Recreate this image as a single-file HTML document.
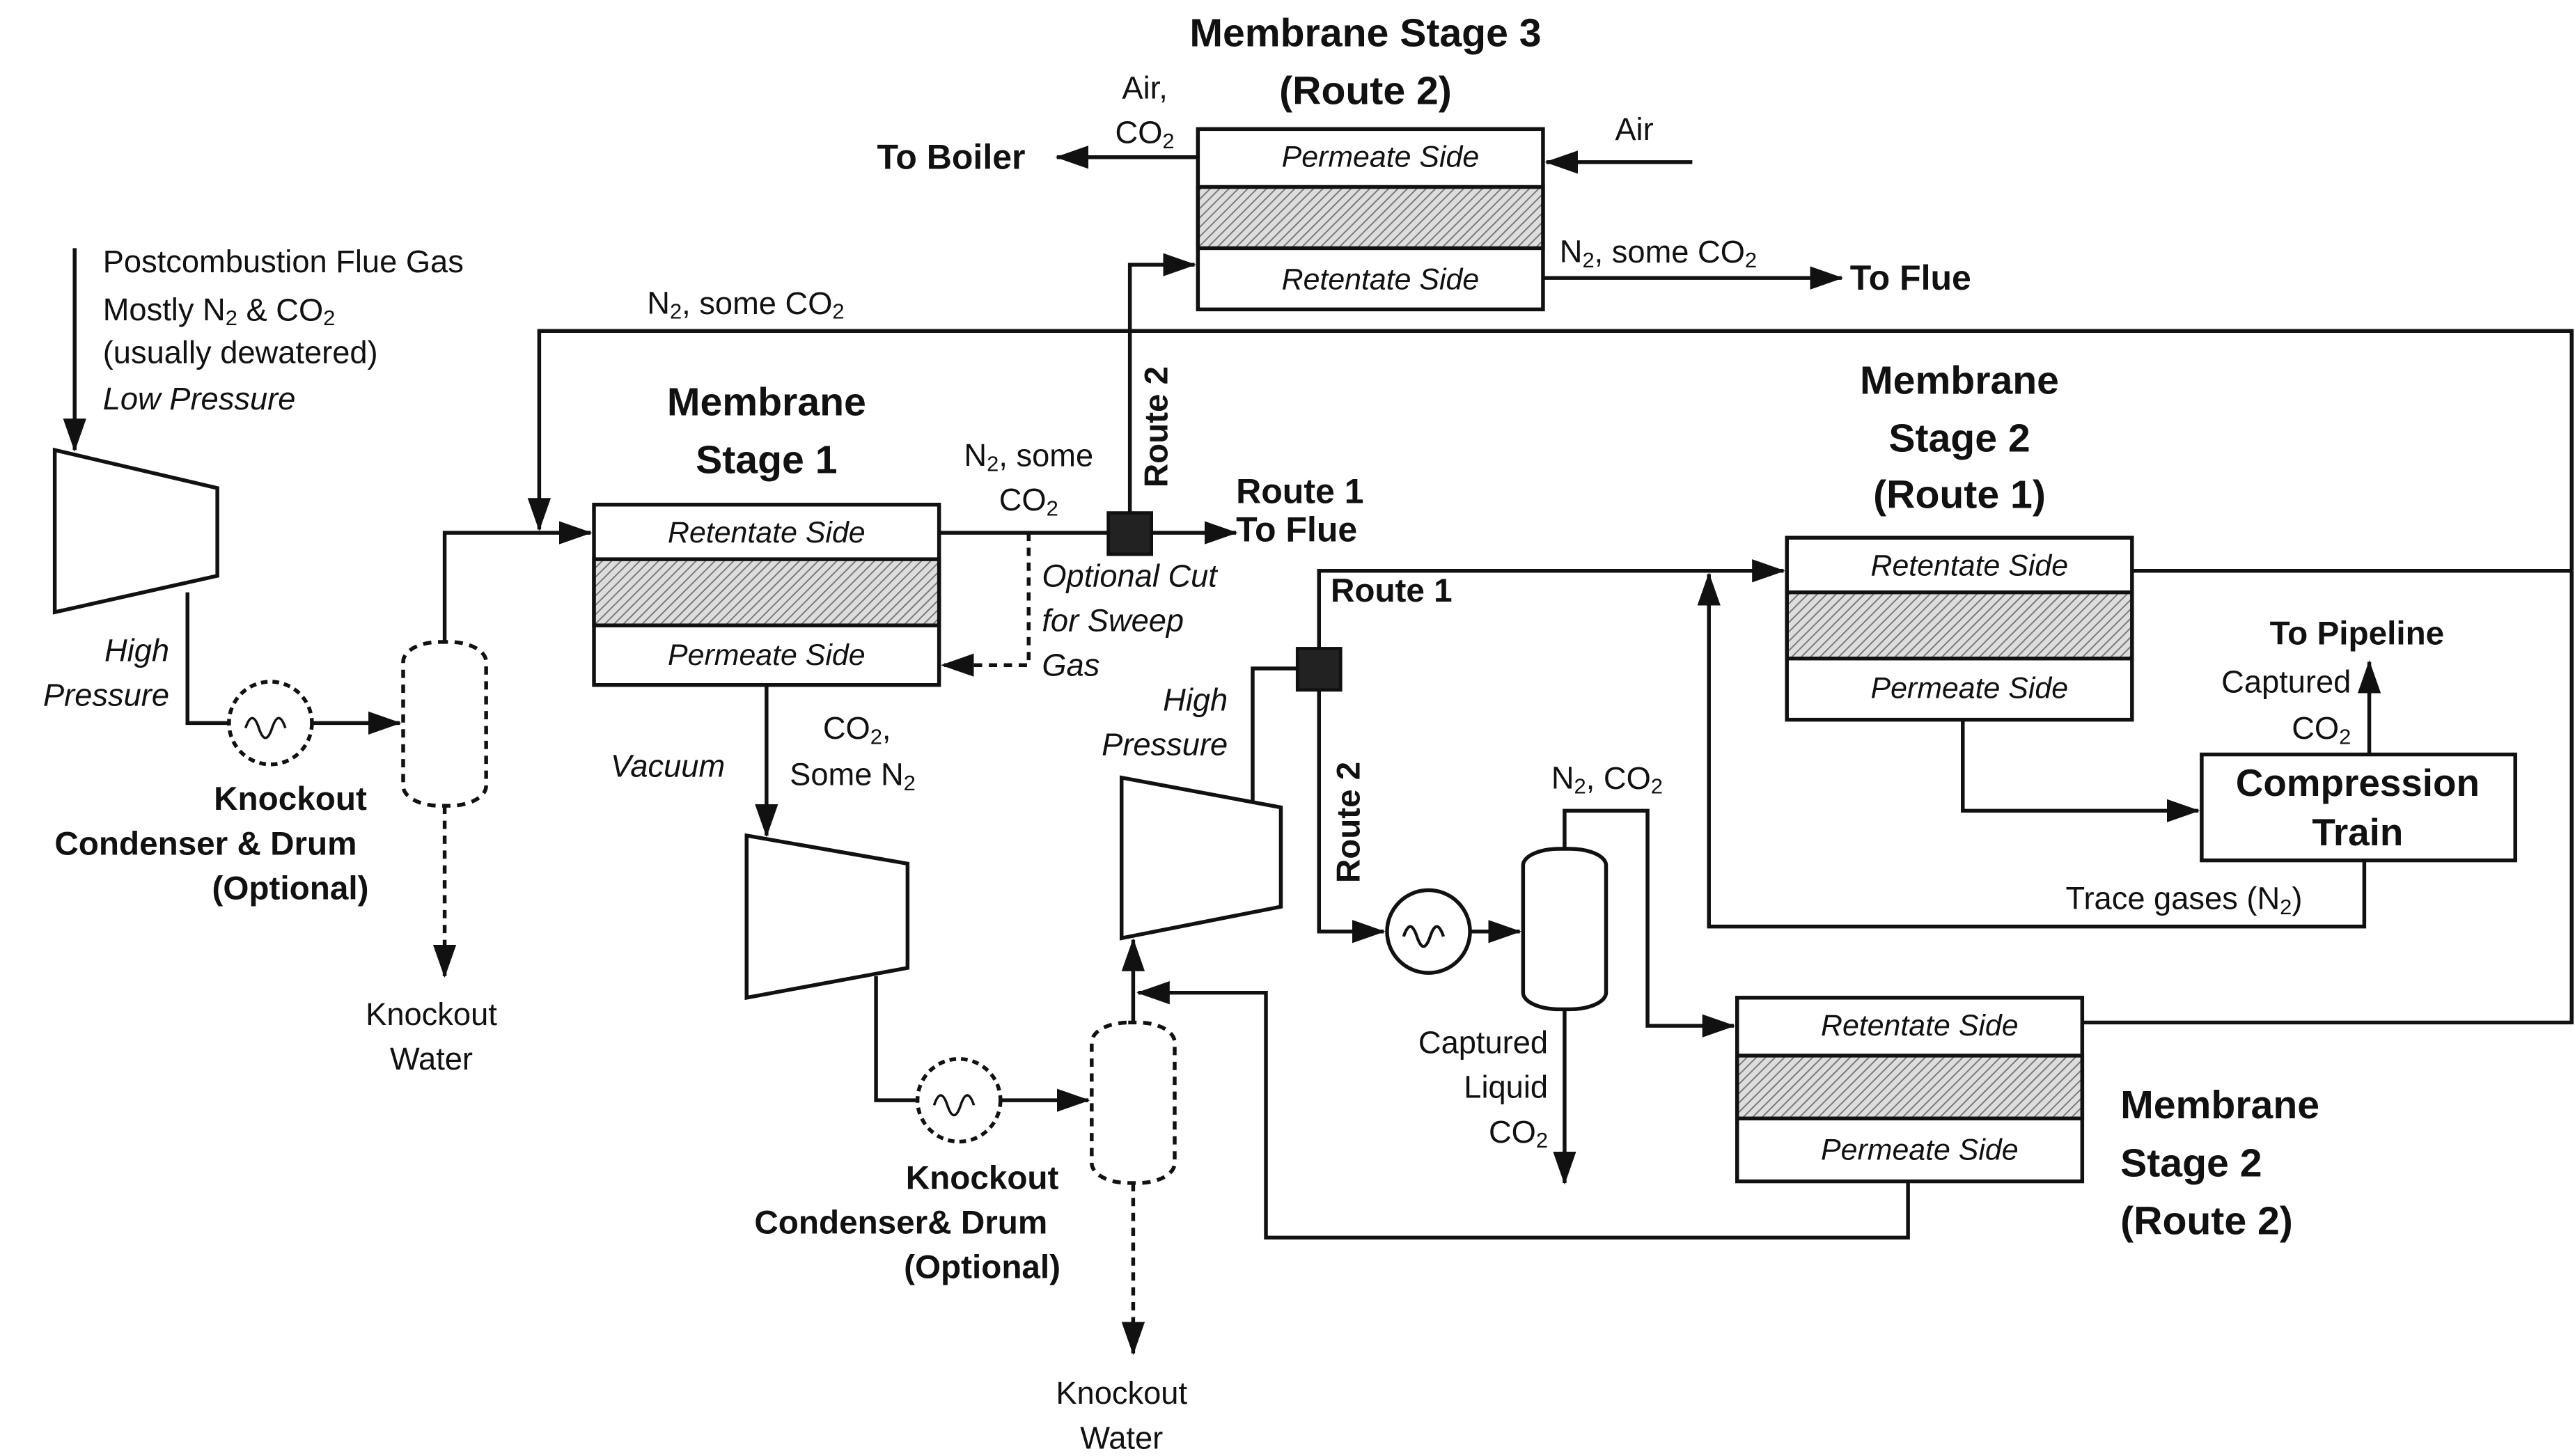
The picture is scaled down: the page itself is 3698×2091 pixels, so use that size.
<!DOCTYPE html>
<html><head><meta charset="utf-8"><style>
html,body{margin:0;padding:0;background:#fff;}
svg{display:block;}
text{font-family:"Liberation Sans",Arial,sans-serif;fill:#111;}
.b{font-weight:bold;}
.i{font-style:italic;}
</style></head><body>
<svg width="3698" height="2091" viewBox="0 0 1552 880" preserveAspectRatio="none" xmlns="http://www.w3.org/2000/svg">
<defs>
<pattern id="h" width="4" height="4" patternUnits="userSpaceOnUse" patternTransform="rotate(45)">
<rect width="4" height="4" fill="#ddd"/><line x1="0" y1="0" x2="0" y2="4" stroke="#777" stroke-width="1.6"/>
</pattern>
<marker id="a" markerWidth="10" markerHeight="8" refX="9" refY="4" orient="auto" markerUnits="userSpaceOnUse" viewBox="0 0 10 8">
<path d="M0,0 L10,4 L0,8 Z" fill="#111"/></marker>
<marker id="A" markerWidth="20" markerHeight="14" refX="19" refY="7" orient="auto" markerUnits="userSpaceOnUse" viewBox="0 0 20 14">
<path d="M0,0 L20,7 L0,14 Z" fill="#111"/></marker>
</defs>
<g fill="none" stroke="#111" stroke-width="2.3">
<!-- Stage 3 -->
<rect x="722" y="78" width="208" height="109" fill="#fff"/>
<rect x="722" y="113" width="208" height="37" fill="url(#h)"/>
<line x1="722" y1="95" x2="637" y2="95" marker-end="url(#A)"/>
<line x1="1020" y1="98" x2="932" y2="98" marker-end="url(#A)"/>
<line x1="930" y1="168" x2="1110" y2="168" marker-end="url(#A)"/>
<polyline points="681,310 681,160 720,160" marker-end="url(#A)"/>
<!-- big loop -->
<polyline points="1550,345 1550,200 325,200 325,320" marker-end="url(#A)"/>
<line x1="1285" y1="345" x2="1550" y2="345"/>
<polyline points="1255,618 1550,618 1550,345"/>
<!-- feed -->
<line x1="45" y1="150" x2="45" y2="272" marker-end="url(#A)"/>
<polygon points="33,272 131,295 131,348 33,370" fill="#fff"/>
<polyline points="113,358 113,437 241,437" marker-end="url(#A)"/>
<circle cx="163" cy="437" r="25" fill="#fff" stroke-dasharray="4,3"/>
<path d="M148,440 q4,-12 8,0 t8,0 t8,0" stroke-width="1.5"/>
<rect x="243" y="388" width="50" height="99" rx="22" ry="12" fill="#fff" stroke-dasharray="5,4"/>
<polyline points="268,388 268,322 356,322" marker-end="url(#A)"/>
<line x1="268" y1="487" x2="268" y2="590" stroke-dasharray="5,4" marker-end="url(#A)"/>
<!-- Stage 1 -->
<rect x="358" y="305" width="208" height="109" fill="#fff"/>
<rect x="358" y="338" width="208" height="40" fill="url(#h)"/>
<line x1="566" y1="322" x2="745" y2="322" marker-end="url(#A)"/>
<polyline points="620,322 620,402 568,402" stroke-dasharray="5,4" marker-end="url(#A)"/>
<line x1="462" y1="414" x2="462" y2="505" marker-end="url(#A)"/>
<polygon points="450,505 547,522 547,585 450,603" fill="#fff"/>
<polyline points="528,590 528,665 656,665" marker-end="url(#A)"/>
<circle cx="578" cy="665" r="25" fill="#fff" stroke-dasharray="4,3"/>
<path d="M563,668 q4,-12 8,0 t8,0 t8,0" stroke-width="1.5"/>
<rect x="658" y="618" width="50" height="97" rx="22" ry="12" fill="#fff" stroke-dasharray="5,4"/>
<line x1="683" y1="715" x2="683" y2="818" stroke-dasharray="5,4" marker-end="url(#A)"/>
<line x1="683" y1="618" x2="683" y2="568" marker-end="url(#A)"/>
<polyline points="1150,714 1150,748 763,748 763,600 686,600" marker-end="url(#A)"/>
<!-- compressor 3 -->
<polygon points="676,470 772,488 772,548 676,567" fill="#fff"/>
<polyline points="755,485 755,404 782,404"/>
<polyline points="795,392 795,345 1075,345" marker-end="url(#A)"/>
<polyline points="795,416 795,563 834,563" marker-end="url(#A)"/>
<circle cx="861" cy="563" r="25" fill="#fff"/>
<path d="M846,566 q4,-12 8,0 t8,0 t8,0" stroke-width="1.8"/>
<line x1="886" y1="563" x2="916" y2="563" marker-end="url(#A)"/>
<rect x="918" y="513" width="50" height="97" rx="22" ry="10" fill="#fff"/>
<polyline points="943,513 943,490 993,490 993,620 1045,620" marker-end="url(#A)"/>
<line x1="943" y1="610" x2="943" y2="715" marker-end="url(#A)"/>
<polyline points="1425,520 1425,560 1030,560 1030,347" marker-end="url(#A)"/>
<!-- Stage 2 route 1 -->
<rect x="1077" y="325" width="208" height="110" fill="#fff"/>
<rect x="1077" y="358" width="208" height="40" fill="url(#h)"/>
<polyline points="1183,435 1183,490 1325,490" marker-end="url(#A)"/>
<rect x="1327" y="456" width="189" height="64" fill="#fff"/>
<line x1="1428" y1="456" x2="1428" y2="400" marker-end="url(#A)"/>
<!-- Stage 2 route 2 -->
<rect x="1047" y="603" width="208" height="111" fill="#fff"/>
<rect x="1047" y="638" width="208" height="38" fill="url(#h)"/>
</g>
<rect x="668" y="310" width="26" height="25" fill="#222" stroke="#111" stroke-width="2"/>
<rect x="782" y="392" width="26" height="25" fill="#222" stroke="#111" stroke-width="2"/>

<g font-size="19" dominant-baseline="central">
<text x="823" y="20" text-anchor="middle" class="b" font-size="24">Membrane Stage 3</text>
<text x="823" y="55" text-anchor="middle" class="b" font-size="24">(Route 2)</text>
<text x="832" y="95" text-anchor="middle" class="i" font-size="18">Permeate Side</text>
<text x="832" y="169" text-anchor="middle" class="i" font-size="18">Retentate Side</text>
<text x="690" y="53" text-anchor="middle">Air,</text>
<text x="690" y="80" text-anchor="middle">CO<tspan font-size="13" dy="5">2</tspan></text>
<text x="618" y="95" text-anchor="end" class="b" font-size="21">To Boiler</text>
<text x="985" y="78" text-anchor="middle">Air</text>
<text x="940" y="152">N<tspan font-size="13" dy="5">2</tspan><tspan dy="-5">, some CO</tspan><tspan font-size="13" dy="5">2</tspan></text>
<text x="1115" y="168" class="b" font-size="21">To Flue</text>
<text x="390" y="183">N<tspan font-size="13" dy="5">2</tspan><tspan dy="-5">, some CO</tspan><tspan font-size="13" dy="5">2</tspan></text>
<text x="62" y="158">Postcombustion Flue Gas</text>
<text x="62" y="187">Mostly N<tspan font-size="13" dy="5">2</tspan><tspan dy="-5"> &amp; CO</tspan><tspan font-size="13" dy="5">2</tspan></text>
<text x="62" y="213">(usually dewatered)</text>
<text x="62" y="241" class="i">Low Pressure</text>
<text x="102" y="393" text-anchor="end" class="i">High</text>
<text x="102" y="420" text-anchor="end" class="i">Pressure</text>
<text x="175" y="483" text-anchor="middle" class="b" font-size="20">Knockout</text>
<text x="124" y="510" text-anchor="middle" class="b" font-size="20">Condenser &amp; Drum</text>
<text x="175" y="537" text-anchor="middle" class="b" font-size="20">(Optional)</text>
<text x="260" y="613" text-anchor="middle">Knockout</text>
<text x="260" y="640" text-anchor="middle">Water</text>
<text x="462" y="243" text-anchor="middle" class="b" font-size="24">Membrane</text>
<text x="462" y="278" text-anchor="middle" class="b" font-size="24">Stage 1</text>
<text x="462" y="322" text-anchor="middle" class="i" font-size="18">Retentate Side</text>
<text x="462" y="396" text-anchor="middle" class="i" font-size="18">Permeate Side</text>
<text x="620" y="275" text-anchor="middle">N<tspan font-size="13" dy="5">2</tspan><tspan dy="-5">, some</tspan></text>
<text x="620" y="302" text-anchor="middle">CO<tspan font-size="13" dy="5">2</tspan></text>
<text x="745" y="297" class="b" font-size="21">Route 1</text>
<text x="745" y="320" class="b" font-size="21">To Flue</text>
<text x="628" y="348" class="i">Optional Cut</text>
<text x="628" y="375" class="i">for Sweep</text>
<text x="628" y="402" class="i">Gas</text>
<text x="368" y="463" class="i">Vacuum</text>
<text x="496" y="440">CO<tspan font-size="13" dy="5">2</tspan><tspan dy="-5">,</tspan></text>
<text x="476" y="468">Some N<tspan font-size="13" dy="5">2</tspan></text>
<text x="740" y="423" text-anchor="end" class="i">High</text>
<text x="740" y="450" text-anchor="end" class="i">Pressure</text>
<text x="592" y="712" text-anchor="middle" class="b" font-size="20">Knockout</text>
<text x="543" y="739" text-anchor="middle" class="b" font-size="20">Condenser&amp; Drum</text>
<text x="592" y="766" text-anchor="middle" class="b" font-size="20">(Optional)</text>
<text x="676" y="842" text-anchor="middle">Knockout</text>
<text x="676" y="869" text-anchor="middle">Water</text>
<text x="802" y="357" class="b" font-size="20">Route 1</text>
<text transform="translate(697,258) rotate(-90)" text-anchor="middle" class="b" font-size="20">Route 2</text>
<text transform="translate(813,497) rotate(-90)" text-anchor="middle" class="b" font-size="20">Route 2</text>
<text x="935" y="470">N<tspan font-size="13" dy="5">2</tspan><tspan dy="-5">, CO</tspan><tspan font-size="13" dy="5">2</tspan></text>
<text x="933" y="630" text-anchor="end">Captured</text>
<text x="933" y="657" text-anchor="end">Liquid</text>
<text x="933" y="684" text-anchor="end">CO<tspan font-size="13" dy="5">2</tspan></text>
<text x="1181" y="230" text-anchor="middle" class="b" font-size="24">Membrane</text>
<text x="1181" y="265" text-anchor="middle" class="b" font-size="24">Stage 2</text>
<text x="1181" y="299" text-anchor="middle" class="b" font-size="24">(Route 1)</text>
<text x="1187" y="342" text-anchor="middle" class="i" font-size="18">Retentate Side</text>
<text x="1187" y="416" text-anchor="middle" class="i" font-size="18">Permeate Side</text>
<text x="1368" y="383" class="b" font-size="20">To Pipeline</text>
<text x="1417" y="412" text-anchor="end">Captured</text>
<text x="1417" y="440" text-anchor="end">CO<tspan font-size="13" dy="5">2</tspan></text>
<text x="1421" y="473" text-anchor="middle" class="b" font-size="23">Compression</text>
<text x="1421" y="503" text-anchor="middle" class="b" font-size="23">Train</text>
<text x="1245" y="543">Trace gases (N<tspan font-size="13" dy="5">2</tspan><tspan dy="-5">)</tspan></text>
<text x="1157" y="620" text-anchor="middle" class="i" font-size="18">Retentate Side</text>
<text x="1157" y="695" text-anchor="middle" class="i" font-size="18">Permeate Side</text>
<text x="1278" y="668" class="b" font-size="24">Membrane</text>
<text x="1278" y="703" class="b" font-size="24">Stage 2</text>
<text x="1278" y="738" class="b" font-size="24">(Route 2)</text>
</g>
</svg>
</body></html>
